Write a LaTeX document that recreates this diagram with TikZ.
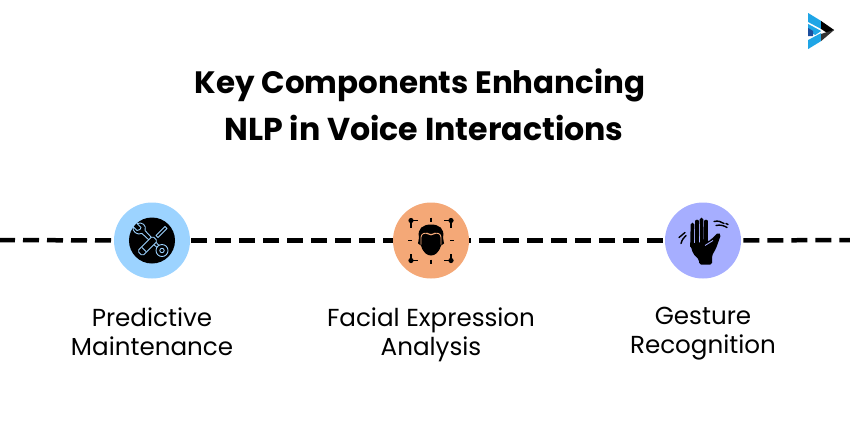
\documentclass[tikz,border=0pt]{standalone}
\usepackage{fontspec}
\setmainfont{Poppins}
\usepackage{xcolor}
\definecolor{colWrench}{HTML}{9CD3FF}
\definecolor{colFace}{HTML}{F4A877}
\definecolor{colHand}{HTML}{A6AEFF}
\definecolor{colLogo}{HTML}{1FA5E6}
\definecolor{colLogoDark}{HTML}{1D4E9E}
\usetikzlibrary{positioning}
\tikzset{
    iconcircle/.style={
        circle, fill=#1, minimum size=1.52cm, inner sep=0pt
    },
    timeline/.style={
        line width=0.09cm, dash pattern=on 0.32cm off 0.16cm
    },
    caption/.style={
        align=center, font=\fontsize{14}{16.5}\selectfont, text=black, inner sep=0pt
    },
    heading/.style={
        font=\fontsize{#1}{20}\selectfont\bfseries, text=black, inner sep=0pt
    },
    tooline/.style={draw=colWrench, line width=0.5pt, line join=round},
    finger/.style={black, line width=2.1pt, line cap=round},
    swish/.style={black, line width=0.8pt, line cap=round},
    pixelgrid/.style={x=0.02cm, y=-0.02cm},
}

\begin{document}
\begin{tikzpicture}
    \useasboundingbox (0,0) rectangle (17,8.82);

    % title
    \node[heading=17.6] (title) at (8.40,7.12) {Key Components Enhancing};
    \node[heading=18] (subtitle) at (8.48,6.27) {NLP in Voice Interactions};

    % the three stations on the line
    \node[iconcircle=colWrench] (maint) at (3.04,4.01) {};
    \node[iconcircle=colFace] (face) at (8.62,4.01) {};
    \node[iconcircle=colHand] (hand) at (14.06,4.01) {};
    \coordinate (lineL) at (0,4.02);
    \coordinate (lineR) at (17,4.02);

    \draw[timeline, dash phase=0.02cm] (lineL) -- (maint.west);
    \draw[timeline, dash phase=0.46cm] (maint.east) -- (face.west);
    \draw[timeline, dash phase=0.28cm] (face.east) -- (hand.west);
    \draw[timeline, dash phase=0.44cm] (hand.east) -- (lineR);

    % captions
    \node[caption, below=0.58cm of maint] (maintText) {Predictive\\Maintenance};
    \node[caption, below=0.58cm of face] (faceText) {Facial Expression\\Analysis};
    \node[caption, below=0.56cm of hand] (handText) {Gesture\\Recognition};

    % wrench and screwdriver
    \begin{scope}[shift={(maint.center)}, pixelgrid]
        \fill[black] (0,0) circle (23);
        \draw[tooline] (-7,-10) -- (7,5);
        \draw[tooline] (-10,-7) -- (5,7);
        \draw[tooline] (-7,-10) .. controls (-5,-15) and (-10,-19) .. (-15,-17)
            -- (-11,-13) -- (-12,-11) -- (-15,-10) -- (-19,-14)
            .. controls (-20,-9) and (-15,-5) .. (-10,-7);
        \draw[tooline, fill=black] (10,10) circle (6);
        \draw[tooline] (10,10) circle (2.2);
        \draw[tooline] (13,-14) -- (15,-12) -- (6,-3) -- (4,-5) -- cycle;
        \draw[tooline, fill=black, rounded corners=1pt] (5.5,0.5) -- (0.5,-4.5) -- (-14.5,10.5)
            -- (-9.5,15.5) -- cycle;
        \draw[tooline] (-10,7) -- (-6,11);
    \end{scope}

    % face with tracking marks
    \begin{scope}[shift={(face.center)}, pixelgrid]
        \foreach \sx/\sy in {-1/-1, 1/-1, -1/1, 1/1} {
            \fill[black] (20*\sx,20*\sy) circle (2.6);
            \draw[black, line width=0.9pt] (20*\sx,20*\sy) -- (13*\sx,20*\sy);
            \draw[black, line width=0.9pt] (20*\sx,20*\sy) -- (20*\sx,13*\sy);
        }
        \foreach \tx/\ty/\ux/\uy in {0/-23/0/-19, 0/19/0/23, -23/0/-19/0, 19/0/23/0} {
            \draw[black, line width=0.9pt] (\tx,\ty) -- (\ux,\uy);
        }
        \fill[black] (-12,-3) .. controls (-14,-12) and (-8,-16) .. (0,-16)
            .. controls (8,-16) and (14,-12) .. (12,-3)
            -- (13,3) -- (10,5) .. controls (8,12) and (4,15) .. (0,15)
            .. controls (-4,15) and (-8,12) .. (-10,5) -- (-13,3) -- cycle;
        \draw[colFace, line width=0.5pt, rounded corners=1.5pt]
            (-10,4) -- (-10,-6) -- (-5,-8) -- (-2,-6) -- (2,-6) -- (5,-8) -- (10,-6) -- (10,4);
    \end{scope}

    % raised hand
    \begin{scope}[shift={(hand.center)}, pixelgrid]
        \draw[finger] (-10.5,-16) -- (-11,6);
        \draw[finger] (-6,-19) -- (-6,4);
        \draw[finger] (-1.5,-21) -- (-1,4);
        \draw[finger] (3,-19) -- (3,4);
        \fill[black, rounded corners=1pt] (-13,3) -- (5,1) -- (8,-1) -- (15,-8) -- (18,-6)
            -- (13,8) -- (9,15) -- (9,24) -- (-4,24) -- (-4,19) -- (-10,13) -- cycle;
        \draw[colHand, line width=0.5pt] (2,5) -- (10,0);
        \draw[swish] (11,-19) .. controls (15,-20) and (18,-19) .. (21,-17);
        \draw[swish] (13,-15) .. controls (17,-16) and (21,-15) .. (24,-13);
        \draw[swish] (23,-17) -- (25,-16);
        \draw[swish] (-24,-3) -- (-18,-8);
        \draw[swish] (-22,3) .. controls (-21,-1) and (-19,-3) .. (-17,-5);
    \end{scope}

    % logo mark
    \begin{scope}[shift={(0,8.82)}, pixelgrid]
        \fill[colLogo] (808,13) -- (821,21) -- (821,29) -- (808,22) -- cycle;
        \fill[colLogo] (808,24) -- (821,31) -- (815,35) -- (808,31) -- cycle;
        \fill[colLogoDark] (808,28) -- (813,31) -- (813,36) -- (808,36) -- cycle;
        \fill[colLogo] (808,40) -- (821,33) -- (821,41) -- (808,49) -- cycle;
        \fill[black] (821,21) -- (834,30) -- (827,33) -- (821,29) -- cycle;
        \fill[black!80] (821,34) -- (827,32) -- (834,30) -- (821,41) -- cycle;
    \end{scope}
\end{tikzpicture}
\end{document}
